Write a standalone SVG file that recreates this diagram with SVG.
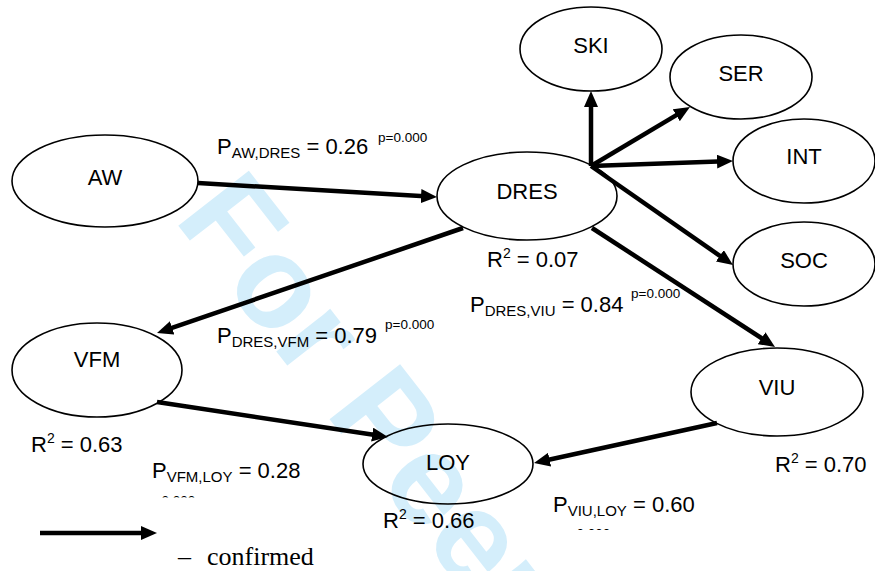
<svg xmlns="http://www.w3.org/2000/svg" width="875" height="571" viewBox="0 0 875 571">
<style>
.node ellipse{fill:none;stroke:#000;stroke-width:1.6}
.node text{font-family:"Liberation Sans",Arial,sans-serif;font-size:22px;fill:#000;text-anchor:middle}
.lbl{font-family:"Liberation Sans",Arial,sans-serif;font-size:22px;fill:#000}
.sub{font-size:15px}
.sup{font-family:"Liberation Sans",Arial,sans-serif;font-size:13.5px;fill:#000}
.r2s{font-size:14px}
.conn line{stroke:#000;stroke-width:4.5;marker-end:url(#ah)}
.wm{font-family:"Liberation Sans",Arial,sans-serif;font-weight:bold;font-size:130px;fill:#d4eefb}
</style>
<defs>
<marker id="ah" markerUnits="userSpaceOnUse" markerWidth="16" markerHeight="14" refX="8" refY="7" orient="auto">
<path d="M0,0 L16,7 L0,14 z" fill="#000"/>
</marker>
<clipPath id="c1"><rect x="130" y="480" width="120" height="17.5"/></clipPath>
<clipPath id="c2"><rect x="540" y="515" width="120" height="15"/></clipPath>
</defs>
<rect width="875" height="571" fill="#fff"/>
<text class="wm" transform="translate(173,219) rotate(52)">For Peer Review</text>

<g id="connectors" class="conn">
<line x1="198" y1="183" x2="429" y2="196.5"/>
<line x1="591" y1="166" x2="591" y2="99"/>
<line x1="591" y1="166" x2="683.1" y2="111.1"/>
<line x1="591" y1="166" x2="725" y2="161.3"/>
<line x1="591" y1="166" x2="726.4" y2="260.4"/>
<line x1="592" y1="228" x2="768.3" y2="342.6"/>
<line x1="463" y1="228" x2="164.6" y2="330.4"/>
<line x1="157" y1="402" x2="380.1" y2="435.8"/>
<line x1="717" y1="423" x2="541.8" y2="461.3"/>
<line x1="40" y1="533" x2="149" y2="533"/>
</g>

<g id="AW" class="node"><ellipse cx="105" cy="181" rx="93" ry="46"/><text x="105" y="185">AW</text></g>
<g id="DRES" class="node"><ellipse cx="527" cy="196" rx="90" ry="44"/><text x="527" y="199">DRES</text></g>
<g id="SKI" class="node"><ellipse cx="591" cy="49" rx="71" ry="42"/><text x="591" y="53">SKI</text></g>
<g id="SER" class="node"><ellipse cx="741" cy="77" rx="71" ry="42"/><text x="741" y="81">SER</text></g>
<g id="INT" class="node"><ellipse cx="804" cy="161" rx="71" ry="42"/><text x="804" y="164">INT</text></g>
<g id="SOC" class="node"><ellipse cx="804" cy="264" rx="71" ry="42"/><text x="804" y="268">SOC</text></g>
<g id="VFM" class="node"><ellipse cx="97" cy="370" rx="85" ry="47"/><text x="97" y="367">VFM</text></g>
<g id="LOY" class="node"><ellipse cx="448" cy="464" rx="85" ry="40"/><text x="448" y="470">LOY</text></g>
<g id="VIU" class="node"><ellipse cx="777" cy="392" rx="86" ry="44"/><text x="777" y="395">VIU</text></g>

<g id="labels">
<text class="lbl" x="217" y="154">P<tspan class="sub" dy="4">AW,DRES</tspan><tspan dy="-4"> = 0.26</tspan></text>
<text class="sup" x="378" y="142">p=0.000</text>
<text class="lbl" x="487" y="267">R<tspan class="r2s" dy="-9">2</tspan><tspan dy="9"> = 0.07</tspan></text>
<text class="lbl" x="470" y="312">P<tspan class="sub" dy="4">DRES,VIU</tspan><tspan dy="-4"> = 0.84</tspan></text>
<text class="sup" x="631" y="298">p=0.000</text>
<text class="lbl" x="217" y="343">P<tspan class="sub" dy="4">DRES,VFM</tspan><tspan dy="-4"> = 0.79</tspan></text>
<text class="sup" x="385" y="329">p=0.000</text>
<text class="lbl" x="31" y="452">R<tspan class="r2s" dy="-9">2</tspan><tspan dy="9"> = 0.63</tspan></text>
<text class="lbl" x="152" y="478">P<tspan class="sub" dy="4">VFM,LOY</tspan><tspan dy="-4"> = 0.28</tspan></text>
<text class="sup" x="146" y="505" clip-path="url(#c1)">p=0.000</text>
<text class="lbl" x="383" y="528">R<tspan class="r2s" dy="-9">2</tspan><tspan dy="9"> = 0.66</tspan></text>
<text class="lbl" x="775" y="472">R<tspan class="r2s" dy="-9">2</tspan><tspan dy="9"> = 0.70</tspan></text>
<text class="lbl" x="553" y="512">P<tspan class="sub" dy="4">VIU,LOY</tspan><tspan dy="-4"> = 0.60</tspan></text>
<text class="sup" x="561" y="538" clip-path="url(#c2)">p=0.000</text>
</g>

<g id="legend">
<text font-family="'Liberation Serif','Times New Roman',serif" font-size="26" fill="#000" y="565"><tspan x="178">–</tspan><tspan x="207">confirmed</tspan></text>
</g>
</svg>
